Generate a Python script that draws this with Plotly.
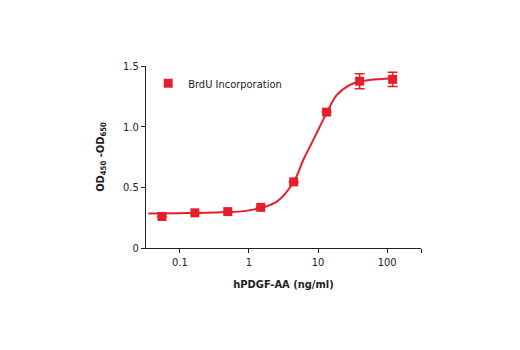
import plotly.graph_objects as go

# measured points (hPDGF-AA ng/ml vs OD)
conc = [0.055, 0.165, 0.494, 1.48, 4.44, 13.3, 40, 120]
od = [0.26, 0.29, 0.30, 0.335, 0.545, 1.12, 1.375, 1.39]
od_err = [0, 0, 0, 0, 0, 0, 0.062, 0.058]

# fitted curve
curve_x = [0.035, 0.1, 0.3, 1.0, 2.5, 4.5, 6.1, 7.7, 10, 13.5, 18.6, 29, 40, 70, 135]
curve_y = [0.285, 0.287, 0.292, 0.31, 0.38, 0.55, 0.725, 0.84, 0.97, 1.12, 1.26, 1.345, 1.37, 1.39, 1.40]

xtick_vals = [0.1, 1, 10, 100, 10 ** 2.49]
xtick_text = ["0.1", "1", "10", "100", ""]
ytick_vals = [0, 0.5, 1.0, 1.5]
ytick_text = ["0", "0.5", "1.0", "1.5"]

RED = "#e41f2b"
FONT = "DejaVu Sans Condensed, Liberation Sans, Arial, sans-serif"

fig = go.Figure()
fig.add_trace(go.Scatter(
    x=curve_x, y=curve_y, mode="lines", line=dict(color=RED, width=2, shape="spline"),
    showlegend=False, hoverinfo="skip"))
fig.add_trace(go.Scatter(
    x=conc, y=od, mode="markers", name="BrdU Incorporation",
    marker=dict(symbol="square", size=9, color=RED),
    error_y=dict(type="data", array=od_err, color=RED, thickness=1.5, width=5, visible=True),
    cliponaxis=False))

fig.update_layout(
    width=520, height=350,
    margin=dict(l=146, r=99, t=66, b=102),
    paper_bgcolor="white", plot_bgcolor="white",
    font=dict(family=FONT, size=11, color="#222"),
    legend=dict(x=0.008, y=0.985, xanchor="left", yanchor="top",
                bgcolor="rgba(0,0,0,0)", font=dict(size=11, family=FONT),
                itemwidth=30),
    xaxis=dict(type="log", range=[-1.49, 2.49], tickvals=xtick_vals, ticktext=xtick_text,
               showgrid=False, zeroline=False, showline=True, linecolor="#222", linewidth=1,
               ticks="outside", ticklen=4, tickcolor="#222",
               title=dict(text="<b>hPDGF-AA (ng/ml)</b>", font=dict(size=11, family=FONT), standoff=12)),
    yaxis=dict(range=[0, 1.5], tickvals=ytick_vals, ticktext=ytick_text,
               showgrid=False, zeroline=False, showline=True, linecolor="#222", linewidth=1,
               ticks="outside", ticklen=4, tickcolor="#222",
               title=dict(text="<b>OD<sub>450</sub> -OD<sub>650</sub></b>", font=dict(size=11, family=FONT), standoff=16)),
)

fig.write_html("out.html")
